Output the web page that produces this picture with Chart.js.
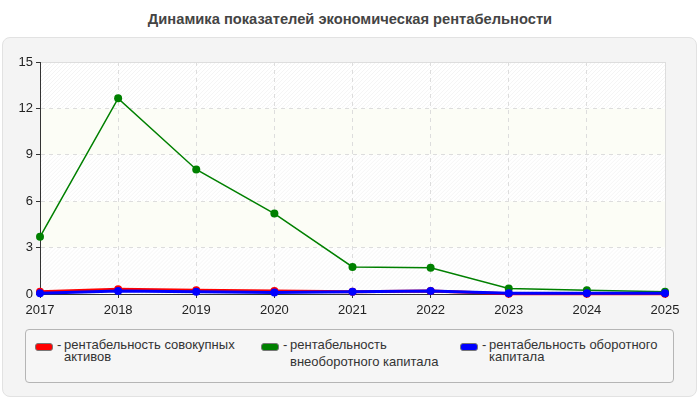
<!DOCTYPE html>
<html>
<head>
<meta charset="utf-8">
<script src="https://cdn.jsdelivr.net/npm/chart.js@4.4.1/dist/chart.umd.min.js"></script>
<style>
  body { margin: 0; width: 700px; height: 400px; background: #fff; font-family: "Liberation Sans", Arial, sans-serif; position: relative; overflow: hidden; }
  #title { position: absolute; left: 0; top: 11px; width: 700px; text-align: center; font: bold 14.7px "Liberation Sans", Arial, sans-serif; color: #444; }
  #panel { position: absolute; left: 2px; top: 37px; width: 693px; height: 358px; background: #f4f4f4; border: 1px solid #e2e2e2; border-radius: 8px; }
  #wrap { position: absolute; left: 0; top: 0; width: 700px; height: 325px; }
  #legend { position: absolute; left: 25px; top: 329px; width: 647px; height: 52px; border: 1px solid #b5b5b5; border-radius: 4px; background: #f6f6f6; }
  .item { position: absolute; top: 8px; font: 13px "Liberation Sans", Arial, sans-serif; color: #333; line-height: 13px; white-space: nowrap; }
  .sw { position: absolute; left: 0; top: 5px; width: 16px; height: 6px; border-radius: 3px; border: 1px solid #777; }
  .dash { position: absolute; left: 22px; top: 0; }
  .line { position: absolute; left: 29px; }
</style>
</head>
<body>
<div id="title">Динамика показателей экономическая рентабельности</div>
<div id="panel"></div>
<div id="wrap"><canvas id="myChart" width="700" height="325"></canvas></div>
<div id="legend"></div>
<script>
const years = ['2017', '2018', '2019', '2020', '2021', '2022', '2023', '2024', '2025']
const seriesNames = [
  'рентабельность совокупных активов',
  'рентабельность внеоборотного капитала',
  'рентабельность оборотного капитала'
]
const seriesColors = ['#ff0000', '#008000', '#0000ff']
const totalAssets = [0.15, 0.3, 0.25, 0.2, 0.15, 0.2, 0.02, 0.02, 0.02]
const nonCurrentCapital = [3.7, 12.65, 8.05, 5.2, 1.75, 1.7, 0.35, 0.25, 0.15]
const workingCapital = [0.05, 0.2, 0.15, 0.1, 0.15, 0.2, 0.05, 0.05, 0.05]
const yTicks = [0, 3, 6, 9, 12, 15]

// legend text is wrapped by hand like in the picture
const legendLines = [
  ['рентабельность совокупных', 'активов'],
  ['рентабельность', 'внеоборотного капитала'],
  ['рентабельность оборотного', 'капитала']
]
const legendLeft = [9, 235, 434]
const secondLineTop = [12, 17, 12]

const legendBox = document.querySelector('#legend')
legendLines.forEach((lines, i) => {
  legendBox.innerHTML += `
  <div class="item" style="left:${legendLeft[i]}px">
    <div class="sw" style="background:${seriesColors[i]}"></div>
    <div class="dash">-</div>
    <div class="line" style="top:0">${lines[0]}</div>
    <div class="line" style="top:${secondLineTop[i]}px">${lines[1]}</div>
  </div>`
})

// striped plot background
const bandsPlugin = {
  id: 'bands',
  beforeDraw(chart) {
    const { ctx, chartArea: a, scales: { y } } = chart
    ctx.save()
    ctx.fillStyle = '#ffffff'
    ctx.fillRect(a.left, a.top, a.right - a.left, a.bottom - a.top)
    for (let i = 0; i < yTicks.length - 1; i++) {
      const top = y.getPixelForValue(yTicks[i + 1])
      const bottom = y.getPixelForValue(yTicks[i])
      ctx.save()
      ctx.beginPath()
      ctx.rect(a.left, top, a.right - a.left, bottom - top)
      ctx.clip()
      if (i % 2 === 1) {
        ctx.fillStyle = '#fcfdf6'
        ctx.fillRect(a.left, top, a.right - a.left, bottom - top)
      } else {
        ctx.strokeStyle = 'rgba(0,0,0,0.045)'
        ctx.lineWidth = 1
        ctx.beginPath()
        for (let x = a.left - (bottom - top); x < a.right; x += 4) {
          ctx.moveTo(x, bottom)
          ctx.lineTo(x + (bottom - top), top)
        }
        ctx.stroke()
      }
      ctx.restore()
    }
    ctx.strokeStyle = '#dddddd'
    ctx.lineWidth = 1
    ctx.beginPath()
    ctx.moveTo(a.left, a.top + 0.5)
    ctx.lineTo(a.right + 0.5, a.top + 0.5)
    ctx.lineTo(a.right + 0.5, a.bottom)
    ctx.stroke()
    ctx.restore()
  }
}

const makeSet = (data, i, width, order) => ({
  label: seriesNames[i],
  data: data,
  borderColor: seriesColors[i],
  backgroundColor: seriesColors[i],
  borderWidth: width,
  pointRadius: 4,
  pointBorderWidth: 0,
  tension: 0,
  order: order
})

const ctx = document.querySelector('#myChart')
new Chart(ctx, {
  type: 'line',
  data: {
    labels: years,
    datasets: [
      makeSet(totalAssets, 0, 3, 2),
      makeSet(nonCurrentCapital, 1, 1.5, 1),
      makeSet(workingCapital, 2, 3, 0)
    ]
  },
  options: {
    responsive: false,
    animation: false,
    clip: false,
    layout: { padding: { left: 10, right: 35, top: 62, bottom: 11 } },
    plugins: { legend: { display: false }, tooltip: { enabled: false } },
    scales: {
      x: {
        afterFit(scale) { scale.height = 20 },
        grid: { color: '#dddddd', tickColor: '#333333', tickLength: 4, drawOnChartArea: true },
        border: { color: '#333333', dash: [4, 4] },
        ticks: { color: '#222222', padding: 5, font: { size: 13, family: 'Liberation Sans' }, maxRotation: 0 }
      },
      y: {
        min: 0,
        max: 15,
        afterFit(scale) { scale.width = 30 },
        afterBuildTicks(scale) { scale.ticks = yTicks.map(v => ({ value: v })) },
        grid: { color: '#dddddd', tickColor: '#333333', tickLength: 4 },
        border: { color: '#333333', dash: [4, 4] },
        ticks: { color: '#222222', padding: 3, font: { size: 13, family: 'Liberation Sans' } }
      }
    }
  },
  plugins: [bandsPlugin]
})
</script>
</body>
</html>
